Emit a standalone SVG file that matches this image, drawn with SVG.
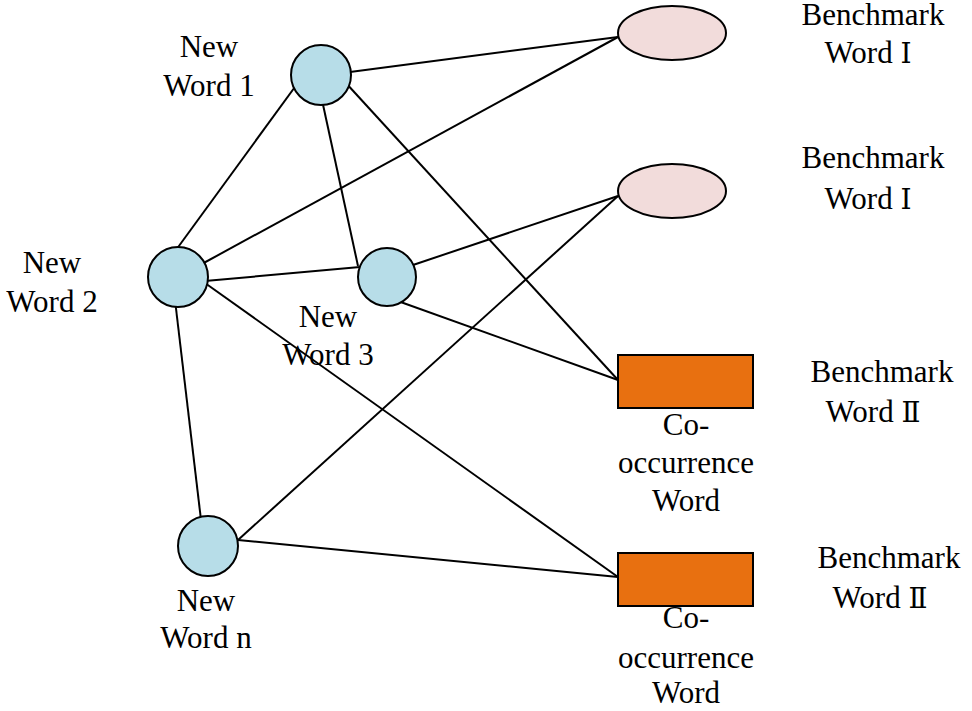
<svg xmlns="http://www.w3.org/2000/svg" width="972" height="711" viewBox="0 0 972 711">
<defs>
<style>
.c{fill:#b7dde8;stroke:#000;stroke-width:2}
.e{fill:#f2dcdb;stroke:#000;stroke-width:2}
.r{fill:#e87010;stroke:#000;stroke-width:2}
#edges line{stroke:#000;stroke-width:2}
</style>
</defs>
<rect width="972" height="711" fill="#fff"/>
<g id="edges">
<line x1="350" y1="72" x2="618" y2="37"/>
<line x1="300" y1="80" x2="176" y2="250"/>
<line x1="322" y1="100" x2="358" y2="266"/>
<line x1="345" y1="82" x2="618" y2="380"/>
<line x1="200" y1="265" x2="618" y2="37"/>
<line x1="205" y1="281" x2="360" y2="267"/>
<line x1="205" y1="283" x2="618" y2="577"/>
<line x1="175" y1="300" x2="201" y2="520"/>
<line x1="410" y1="266" x2="618" y2="196"/>
<line x1="395" y1="300" x2="618" y2="380"/>
<line x1="238" y1="540" x2="618" y2="196"/>
<line x1="238" y1="540" x2="618" y2="577"/>
</g>
<g font-family="Liberation Serif" font-size="31" text-anchor="middle" fill="#000">
<g id="n1"><circle class="c" cx="321" cy="75" r="30"/><text x="209" y="57">New</text><text x="209" y="96">Word 1</text></g>
<g id="n2"><circle class="c" cx="178" cy="277" r="30"/><text x="52" y="273">New</text><text x="52" y="312">Word 2</text></g>
<g id="n3"><circle class="c" cx="387" cy="277" r="29"/><text x="328" y="327">New</text><text x="328" y="365">Word 3</text></g>
<g id="nn"><circle class="c" cx="208" cy="546" r="30"/><text x="206" y="611">New</text><text x="206" y="648">Word n</text></g>
<g id="b1"><ellipse class="e" cx="672" cy="33" rx="54" ry="27"/><text x="873" y="25">Benchmark</text><text x="868" y="63">Word  <tspan font-family="DejaVu Serif" font-size="28">Ⅰ</tspan></text></g>
<g id="b2"><ellipse class="e" cx="672" cy="191" rx="54" ry="27"/><text x="873" y="168">Benchmark</text><text x="868" y="209">Word  <tspan font-family="DejaVu Serif" font-size="28">Ⅰ</tspan></text></g>
<g id="b3"><rect class="r" x="618" y="355" width="135" height="53"/><text x="882" y="382">Benchmark</text><text x="873" y="422">Word <tspan font-family="DejaVu Serif" font-size="28">Ⅱ</tspan></text><text x="686" y="435">Co-</text><text x="686" y="473">occurrence</text><text x="686" y="511">Word</text></g>
<g id="b4"><rect class="r" x="618" y="553" width="135" height="53"/><text x="889" y="568">Benchmark</text><text x="880" y="608">Word <tspan font-family="DejaVu Serif" font-size="28">Ⅱ</tspan></text><text x="686" y="628">Co-</text><text x="686" y="668">occurrence</text><text x="686" y="703">Word</text></g>
</g>
</svg>
